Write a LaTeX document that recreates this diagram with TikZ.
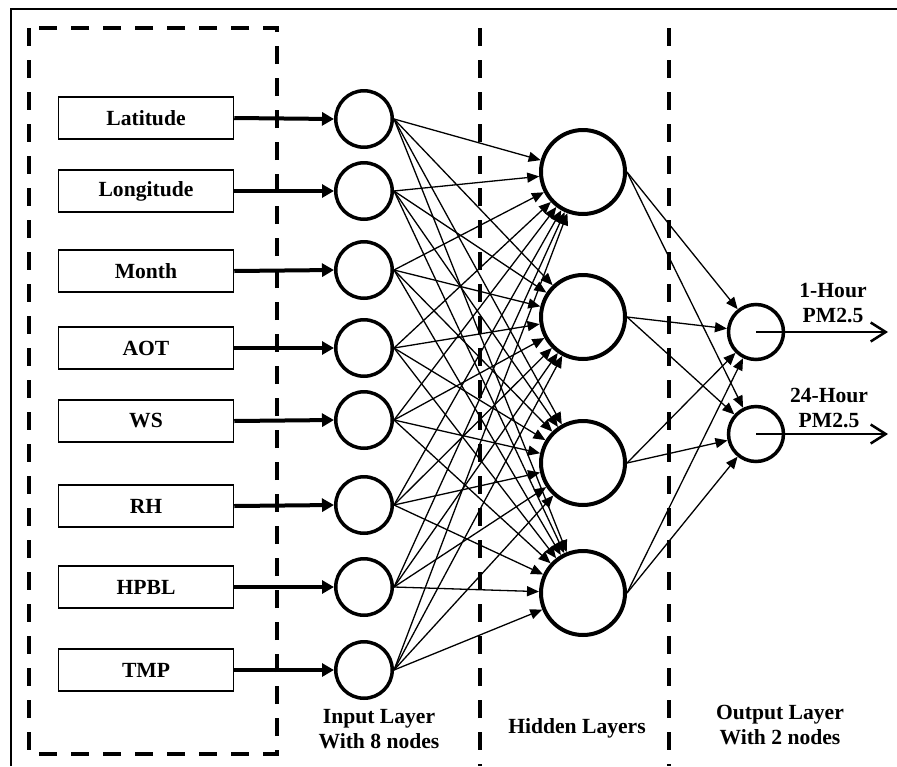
\documentclass[tikz,border=0pt]{standalone}
\usepackage{fontspec}
\setmainfont{Liberation Serif}
\usetikzlibrary{arrows.meta}

\begin{document}
\begin{tikzpicture}[x=1pt,y=-1pt,
  lbl/.style={font=\fontsize{21.6}{25}\selectfont\bfseries, align=center, inner sep=0pt},
  featbox/.style={draw, line width=1.5pt, minimum width=175pt, minimum height=42pt, lbl},
  inneuron/.style={circle, draw, line width=3.5pt, minimum size=56.5pt, inner sep=0pt},
  hidneuron/.style={circle, draw, line width=4pt, minimum size=84pt, inner sep=0pt},
  outneuron/.style={circle, draw, line width=3.5pt, minimum size=55pt, inner sep=0pt},
  feed/.style={line width=4pt, -{Triangle[length=12pt,width=13pt]}},
  wire/.style={line width=1.3pt, -{Triangle[length=12pt,width=10pt]}},
  result/.style={line width=2pt, -{Straight Barb[length=15pt,width=19pt,line width=2.5pt]}},
  divider/.style={line width=4pt, dash pattern=on 18pt off 14pt}
]
\useasboundingbox (0,0) rectangle (897,766);

% frame lines (top and left)
\draw[line width=1.5pt] (11,766) -- (11,9) -- (897,9);

% dashed box around the input features and layer dividers
\draw[divider] (29,28) rectangle (277,754);
\draw[divider] (480,28) -- (480,766);
\draw[divider] (669,28) -- (669,766);

% input features
\foreach \name/\txt/\y in {b1/Latitude/118, b2/Longitude/191, b3/Month/271,
  b4/AOT/348, b5/WS/421, b6/RH/506, b7/HPBL/587, b8/TMP/670}
  \node[featbox] (\name) at (146,\y) {\txt};

% input layer
\foreach \i/\y in {1/119, 2/191, 3/270, 4/348, 5/420, 6/505, 7/587, 8/670}
  \node[inneuron] (i\i) at (364,\y) {};

% hidden layer
\foreach \i/\y in {1/172, 2/317, 3/463, 4/593}
  \node[hidneuron] (h\i) at (583,\y) {};

% output layer
\node[outneuron] (o1) at (756,332) {};
\node[outneuron] (o2) at (756,434) {};

% feature -> input
\foreach \i in {1,...,8}
  \draw[feed] (b\i.east) -- (i\i.west);

% input -> hidden
\foreach \i in {1,...,8}
  \foreach \j in {1,...,4}
    \draw[wire] (i\i.east) -- (h\j);

% hidden -> output
\foreach \j in {1,...,4}
  \foreach \k in {1,2}
    \draw[wire] (h\j.east) -- (o\k);

% outputs
\coordinate (e1) at (888,332);
\coordinate (e2) at (888,434);
\draw[result] (o1.center) -- (e1);
\draw[result] (o2.center) -- (e2);
\node[lbl, anchor=base] (t1) at (833,322) {1-Hour\\PM2.5};
\node[lbl, anchor=base] (t2) at (829,427) {24-Hour\\PM2.5};

% layer captions
\node[lbl, anchor=base] (c1) at (379,748) {Input Layer\\With 8 nodes};
\node[lbl, anchor=base] (c2) at (577,733) {Hidden Layers};
\node[lbl, anchor=base] (c3) at (780,744) {Output Layer\\With 2 nodes};
\end{tikzpicture}
\end{document}
